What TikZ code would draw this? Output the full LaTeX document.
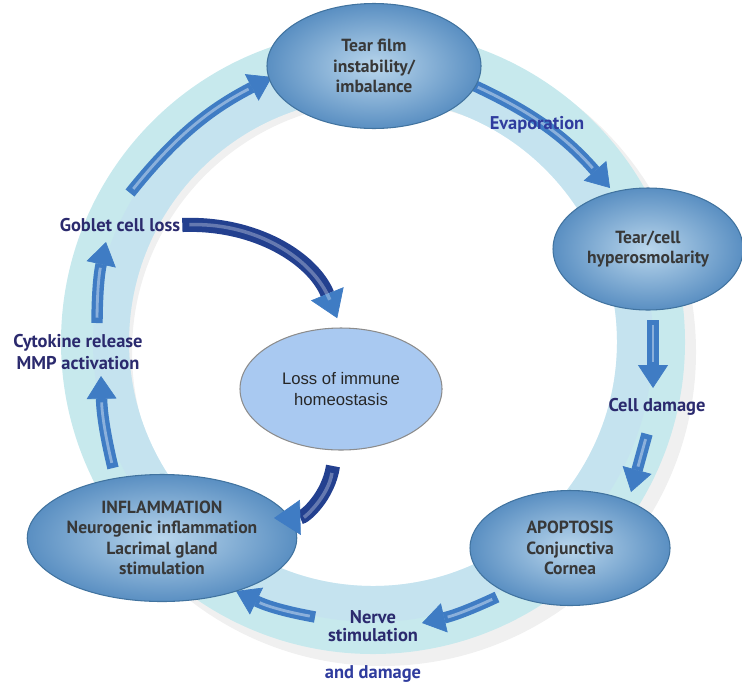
\documentclass[tikz,border=0pt]{standalone}
\usepackage{fontspec}
\setmainfont{PT Sans}
\newfontfamily\arialfont{Liberation Sans}
\usetikzlibrary{positioning,shapes.geometric,arrows.meta}

\definecolor{ringcyan}{HTML}{C7E9ED}
\definecolor{ringblue}{HTML}{C4DEF2}
\definecolor{navytext}{HTML}{2B2A6E}
\definecolor{royaltext}{HTML}{2F3C9E}
\definecolor{arrowblue}{HTML}{3F7CC4}
\definecolor{arrowdark}{HTML}{23408F}
\definecolor{nodeinner}{HTML}{B9D6EC}
\definecolor{nodeouter}{HTML}{5A8FC2}
\definecolor{nodeedge}{HTML}{41739F}
\definecolor{immunefill}{HTML}{A9C9F1}

\tikzset{
  cyclenode/.style={ellipse, shading=radial, inner color=nodeinner, outer color=nodeouter,
    draw=nodeedge, line width=0.6pt, align=center, text=black!78, inner sep=0pt,
    font=\fontsize{10}{11.6}\selectfont\bfseries},
  immunenode/.style={ellipse, fill=immunefill, draw=black!45, line width=0.6pt, align=center,
    text=black!85, inner sep=0pt, font=\arialfont\fontsize{9.5}{11.5}\selectfont},
  ringlabel/.style={align=center, text=navytext, inner sep=1pt,
    font=\fontsize{10.5}{13}\selectfont\bfseries},
  bluelabel/.style={ringlabel, text=royaltext},
  ringarrow/.style={line width=6.5pt, draw=arrowblue,
    -{Triangle[width=17pt,length=13pt,line width=0.4pt]},
    postaction={draw=white, draw opacity=0.4, line width=1.6pt, shorten >=15pt, shorten <=3pt, -}},
  innerarrow/.style={line width=8pt, draw=arrowdark,
    -{Triangle[width=20pt,length=15pt,line width=0.4pt,color=arrowblue]},
    postaction={draw=white, draw opacity=0.3, line width=2pt, shorten >=17pt, shorten <=4pt, -}}
}

\begin{document}
\begin{tikzpicture}[x=0.2mm, y=-0.2mm]
  \useasboundingbox (0,0) rectangle (742,682);

  % the ring with its shadow
  \fill[black, opacity=0.06, even odd rule] (382,352) circle[radius=314] (382,352) circle[radius=250];
  \fill[ringcyan, even odd rule] (373,342) circle[radius=312] (373,342) circle[radius=244];
  \fill[ringblue, opacity=0.5, even odd rule] (373,342) circle[radius=280] (373,342) circle[radius=244];

  % Define the free ends of the arrows
  \coordinate (a1s) at (130,193);  \coordinate (a1e) at (272,77);
  \coordinate (a2s) at (473,85);   \coordinate (a2e) at (610,188);
  \coordinate (a3s) at (653,320);  \coordinate (a3e) at (653,388);
  \coordinate (a4s) at (647,434);  \coordinate (a4e) at (631,492);
  \coordinate (a5s) at (497,597);  \coordinate (a5e) at (422,623);
  \coordinate (a6s) at (315,617);  \coordinate (a6e) at (236,591);
  \coordinate (a7s) at (113,468);  \coordinate (a7e) at (101,376);
  \coordinate (a8s) at (97,323);   \coordinate (a8e) at (106,242);
  \coordinate (b2s) at (333,466);  \coordinate (b2e) at (274,518);

  % Draw the arrows around the ring
  \draw[ringarrow] (a1s) to [bend left=12] (a1e);
  \draw[ringarrow] (a2s) to [bend left=12] (a2e);
  \draw[ringarrow] (a3s) -- (a3e);
  \draw[ringarrow] (a4s) -- (a4e);
  \draw[ringarrow] (a5s) to [bend left=6] (a5e);
  \draw[ringarrow] (a6s) to [bend left=8] (a6e);
  \draw[ringarrow] (a7s) to [bend left=6] (a7e);
  \draw[ringarrow] (a8s) to [bend left=6] (a8e);

  % Define the nodes on the ring
  \node[cyclenode, minimum width=4.28cm, minimum height=2.5cm] (tear) at (374,66)
    {Tear film\\instability/\\imbalance};
  \node[cyclenode, minimum width=3.8cm, minimum height=2.44cm] (hyper) at (648,249)
    {Tear/cell\\hyperosmolarity};
  \node[cyclenode, minimum width=4cm, minimum height=2.3cm] (apop) at (570,548)
    {APOPTOSIS\\Conjunctiva\\Cornea};
  \node[cyclenode, minimum width=4cm, minimum height=2.54cm] (inflam) at (162,538)
    {INFLAMMATION\\Neurogenic inflammation\\Lacrimal gland\\stimulation};

  % Define the node in the middle
  \node[immunenode, minimum width=4.04cm, minimum height=2.44cm] (immune) at (341,389)
    {Loss of immune\\homeostasis};

  % Define the labels on the ring
  \node[bluelabel] (evap) at (537,125) {Evaporation};
  \node[ringlabel] (celldmg) at (657,407) {Cell damage};
  \node[ringlabel, font=\fontsize{10.5}{10}\selectfont\bfseries] (nerve) at (373,626) {Nerve\\stimulation};
  \node[bluelabel] (anddmg) [below=0.4cm of nerve] {and damage};
  \node[ringlabel] (cyto) at (78,352) {Cytokine release\\MMP activation};
  \node[ringlabel] (goblet) at (120,225) {Goblet cell loss};

  % Draw the arrows to and from the middle
  \draw[innerarrow, shorten >=2mm] (goblet.east) to [bend left=35] (immune.north);
  \draw[innerarrow] (b2s) to [bend left=40] (b2e);

\end{tikzpicture}
\end{document}
